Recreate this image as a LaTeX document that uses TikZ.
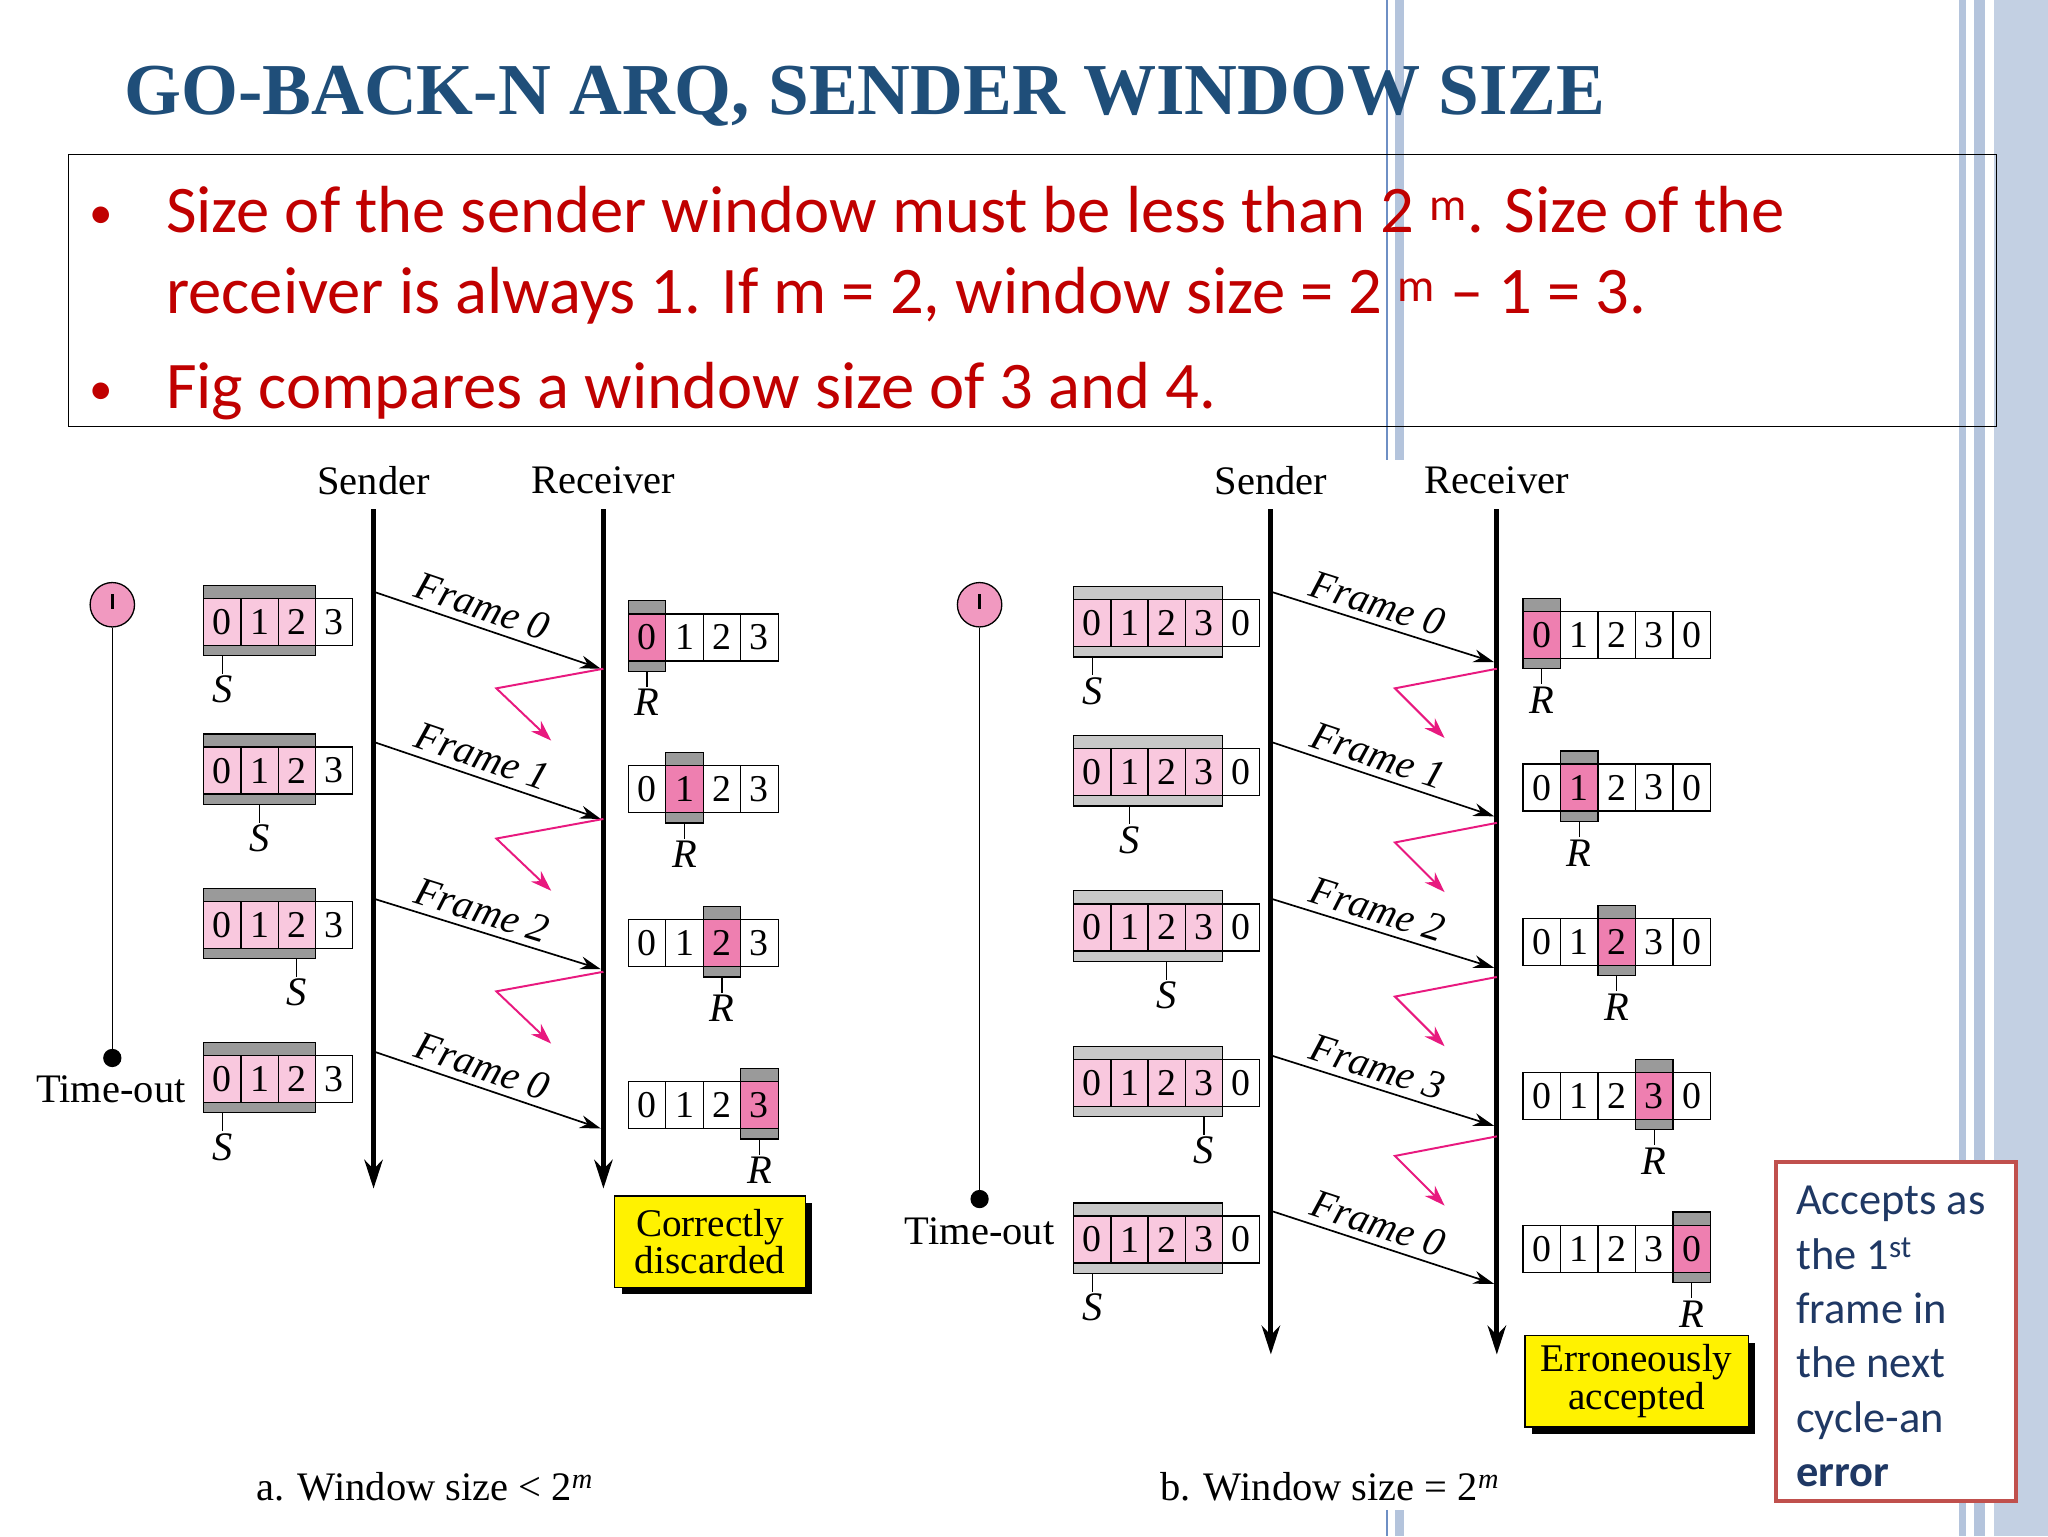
\documentclass[tikz,border=0pt]{standalone}
\usepackage{fontspec}
\setmainfont{Liberation Serif}
\newfontfamily\calfnt{Carlito}
\usetikzlibrary{arrows.meta}
\definecolor{ttl}{HTML}{1F4E79}
\definecolor{bred}{HTML}{C00000}
\definecolor{pinkl}{HTML}{F9C8DE}
\definecolor{pinkd}{HTML}{EE7FB0}
\definecolor{barg}{HTML}{9A9A9A}
\definecolor{barl}{HTML}{C8C8C8}
\definecolor{nakc}{HTML}{E8197F}
\definecolor{deco}{HTML}{B4C4DC}
\definecolor{decod}{HTML}{6E8FC4}
\definecolor{boxr}{HTML}{C0504D}
\definecolor{txtb}{HTML}{1F3864}
\tikzset{
 lab/.style={font=\fontsize{31}{34}\selectfont,inner sep=0pt},
 dig/.style={font=\fontsize{29}{32}\selectfont,inner sep=0pt},
 ilab/.style={font=\fontsize{31}{34}\selectfont\itshape,inner sep=0pt},
 tline/.style={line width=4pt,-{Stealth[length=22pt,width=14pt]}},
 frm/.style={line width=1.3pt,-{Stealth[length=16pt,width=10pt]}},
 nak/.style={nakc,line width=1.5pt,-{Stealth[length=16pt,width=11pt]}},
 ybox/.style={fill=yellow,draw=black,line width=1.2pt,align=center,font=\fontsize{30}{32}\selectfont,inner sep=2pt},
 bul/.style={anchor=base west,text=bred,font=\calfnt\fontsize{51}{56}\selectfont,inner sep=0pt},
 bdot/.style={anchor=base west,text=bred,font=\calfnt\fontsize{36}{40}\selectfont,inner sep=0pt},
 rtxt/.style={anchor=base west,text=txtb,font=\calfnt\fontsize{34}{38}\selectfont,inner sep=0pt},
}
% sender window: x, ytop, labels, npink, S index, shade color
\newcommand\senderwin[6]{%
 \fill[#6,draw=black,line width=1pt] (#1,#2-10) rectangle ++(#4*28.5,10);
 \fill[#6,draw=black,line width=1pt] (#1,#2+36) rectangle ++(#4*28.5,8);
 \foreach \l [count=\i from 0] in {#3}{%
   \ifnum\i<#4 \def\fc{pinkl}\else\def\fc{white}\fi
   \draw[fill=\fc,line width=1pt] (#1+\i*28.5,#2) rectangle ++(28.5,36);
   \node[dig] at (#1+\i*28.5+14.25,#2+18) {\l};}
 \draw[line width=1pt] (#1+#5*28.5+14.25,#2+44) -- ++(0,14);
 \node[ilab] at (#1+#5*28.5+14.25,#2+70) {S};}
% receiver window: x, ytop, labels, highlighted index
\newcommand\recvwin[4]{%
 \foreach \l [count=\i from 0] in {#3}{%
   \ifnum\i=#4 \def\fc{pinkd}\else\def\fc{white}\fi
   \draw[fill=\fc,line width=1pt] (#1+\i*28.7,#2) rectangle ++(28.7,36);
   \node[dig] at (#1+\i*28.7+14.35,#2+18) {\l};}
 \fill[barg,draw=black,line width=1pt] (#1+#4*28.7,#2-10) rectangle ++(28.7,10);
 \fill[barg,draw=black,line width=1pt] (#1+#4*28.7,#2+36) rectangle ++(28.7,8);
 \draw[line width=1pt] (#1+#4*28.7+14.35,#2+44) -- ++(0,12);
 \node[ilab] at (#1+#4*28.7+14.35,#2+68) {R};}
\begin{document}
\begin{tikzpicture}[x=1pt,y=-1pt]
\useasboundingbox[fill=white] (0,0) rectangle (1568,1176);
% decorations
\fill[deco] (1068,0) rectangle (1075,352);
\draw[decod,line width=1pt] (1062,0) -- (1062,352);
\fill[deco] (1068,1156) rectangle (1075,1176);
\draw[decod,line width=1pt] (1062,1156) -- (1062,1176);
\fill[deco] (1500,0) rectangle (1505,1176);
\fill[deco] (1511,0) rectangle (1520,1176);
\fill[deco!80] (1527,0) rectangle (1568,1176);
% title
\node[anchor=base west,inner sep=0pt,text=ttl,font=\fontsize{56}{60}\selectfont\bfseries] (title) at (95,88) {GO-BACK-N ARQ, SENDER WINDOW SIZE};
\node[draw=black,line width=1pt,minimum width=1476pt,minimum height=208pt,anchor=north west,inner sep=0pt] (tbox) at (52,118) {};
\node[bdot] (b1) at (68,175) {•};
\node[bul] (l1) at (127,178) {Size of the sender window must be less than 2 \textsuperscript{m}. Size of the};
\node[bul] (l2) at (127,240) {receiver is always 1. If m = 2, window size = 2 \textsuperscript{m} – 1 = 3.};
\node[bdot] (b2) at (68,310) {•};
\node[bul] (l3) at (127,313) {Fig compares a window size of 3 and 4.};
% ===== diagram a =====
\node[lab] (sA) at (286,368) {Sender};
\node[lab] (rA) at (462,368) {Receiver};
\coordinate (sAt) at (286,390); \coordinate (sAb) at (286,910);
\coordinate (rAt) at (462,390); \coordinate (rAb) at (462,910);
\draw[tline] (sAt) -- (sAb);
\draw[tline] (rAt) -- (rAb);
\foreach \ys/\yr/\f [count=\k] in {453/512/0,568/627/1,688/742/2,805/864/0}{
 \coordinate (fa\k) at (286,\ys); \coordinate (ga\k) at (460,\yr);
 \draw[frm] (fa\k) -- (ga\k) node[pos=0.45,sloped,above=5pt,ilab]{Frame \f};}
\foreach \y [count=\k] in {512,627,744}{
 \coordinate (na\k) at (462,\y); \coordinate (ma\k) at (380,\y+15); \coordinate (ea\k) at (422,\y+55);
 \draw[nak] (na\k) -- (ma\k) -- (ea\k);}
\senderwin{156}{458}{0,1,2,3}{3}{0}{barg}
\senderwin{156}{572}{0,1,2,3}{3}{1}{barg}
\senderwin{156}{690}{0,1,2,3}{3}{2}{barg}
\senderwin{156}{808}{0,1,2,3}{3}{0}{barg}
\recvwin{481}{470}{0,1,2,3}{0}
\recvwin{481}{586}{0,1,2,3}{1}
\recvwin{481}{704}{0,1,2,3}{2}
\recvwin{481}{828}{0,1,2,3}{3}
\node[circle,fill=pinkd!80,draw=black,line width=1pt,minimum size=34pt,inner sep=0pt] (ta) at (86,463) {};
\draw[line width=2.5pt] (86,455) -- (86,466);
\node[circle,fill=black,minimum size=14pt,inner sep=0pt] (da) at (86,810) {};
\draw[line width=1pt] (ta) -- (da);
\node[lab] (toa) at (85,834) {Time-out};
\fill[black] (476,921) rectangle (622,991);
\node[ybox,minimum width=146pt,minimum height=70pt,anchor=north west] (cd) at (470,915) {Correctly\\[-3pt]discarded};
\node[lab] (capa) at (325,1138) {a. Window size < 2\textsuperscript{\itshape m}};
% ===== diagram b =====
\node[lab] (sB) at (973,368) {Sender};
\node[lab] (rB) at (1146,368) {Receiver};
\coordinate (sBt) at (973,390); \coordinate (sBb) at (973,1037);
\coordinate (rBt) at (1146,390); \coordinate (rBb) at (1146,1037);
\draw[tline] (sBt) -- (sBb);
\draw[tline] (rBt) -- (rBb);
\foreach \ys/\yr/\f [count=\k] in {453/507/0,568/625/1,688/741/2,808/862/3,927/983/0}{
 \coordinate (fb\k) at (973,\ys); \coordinate (gb\k) at (1144,\yr);
 \draw[frm] (fb\k) -- (gb\k) node[pos=0.45,sloped,above=5pt,ilab]{Frame \f};}
\foreach \y [count=\k] in {512,630,748,870}{
 \coordinate (nb\k) at (1146,\y); \coordinate (mb\k) at (1068,\y+15); \coordinate (eb\k) at (1106,\y+53);
 \draw[nak] (nb\k) -- (mb\k) -- (eb\k);}
\senderwin{822}{459}{0,1,2,3,0}{4}{0}{barl}
\senderwin{822}{573}{0,1,2,3,0}{4}{1}{barl}
\senderwin{822}{692}{0,1,2,3,0}{4}{2}{barl}
\senderwin{822}{811}{0,1,2,3,0}{4}{3}{barl}
\senderwin{822}{931}{0,1,2,3,0}{4}{0}{barl}
\recvwin{1166}{468}{0,1,2,3,0}{0}
\recvwin{1166}{585}{0,1,2,3,0}{1}
\recvwin{1166}{703}{0,1,2,3,0}{2}
\recvwin{1166}{821}{0,1,2,3,0}{3}
\recvwin{1166}{938}{0,1,2,3,0}{4}
\node[circle,fill=pinkd!80,draw=black,line width=1pt,minimum size=34pt,inner sep=0pt] (tb) at (750,463) {};
\draw[line width=2.5pt] (750,455) -- (750,466);
\node[circle,fill=black,minimum size=14pt,inner sep=0pt] (db) at (750,918) {};
\draw[line width=1pt] (tb) -- (db);
\node[lab] (tob) at (750,943) {Time-out};
\fill[black] (1173,1028) rectangle (1344,1098);
\node[ybox,minimum width=171pt,minimum height=70pt,anchor=north west] (ea) at (1167,1022) {Erroneously\\[-3pt]accepted};
\node[lab] (capb) at (1018,1138) {b. Window size = 2\textsuperscript{\itshape m}};
% red note
\node[draw=boxr,line width=3pt,fill=white,minimum width=184pt,minimum height=260pt,anchor=north west] (note) at (1358,888) {};
\node[rtxt] at (1375,930) {Accepts as};
\node[rtxt] at (1375,972) {the 1\textsuperscript{st}};
\node[rtxt] at (1375,1013) {frame in};
\node[rtxt] at (1375,1055) {the next};
\node[rtxt] at (1375,1097) {cycle-an};
\node[rtxt] at (1375,1138) {\bfseries error};
\end{tikzpicture}
\end{document}
